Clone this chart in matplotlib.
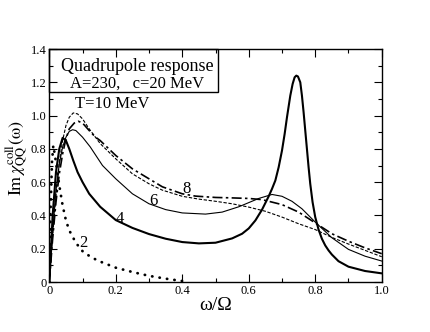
import matplotlib
matplotlib.use('Agg')
import matplotlib.pyplot as plt
from matplotlib.patches import Rectangle
from matplotlib.ticker import MultipleLocator, FuncFormatter

plt.rcParams['font.family'] = ['Liberation Serif', 'DejaVu Serif']
plt.rcParams['mathtext.fontset'] = 'stix'

# ===================== DATA =====================
# T = 2 MeV (dotted)
x_t2 = [0, 0.004, 0.008, 0.012, 0.02, 0.03, 0.04, 0.05, 0.06, 0.08, 0.1,
        0.125, 0.15, 0.2, 0.25, 0.3, 0.35, 0.4, 0.42]
y_t2 = [0, 0.45, 0.72, 0.82, 0.72, 0.58, 0.46, 0.37, 0.31, 0.235, 0.185,
        0.15, 0.125, 0.086, 0.06, 0.037, 0.02, 0.006, 0.0]

# T = 4 MeV (thick solid)
x_t4 = [0, 0.005, 0.01, 0.02, 0.03, 0.04, 0.05, 0.06, 0.072, 0.085, 0.1,
        0.12, 0.153, 0.2, 0.25, 0.3, 0.35, 0.4, 0.45, 0.5, 0.55, 0.58, 0.6,
        0.62, 0.64, 0.66, 0.67, 0.68, 0.69, 0.7, 0.708, 0.715, 0.725, 0.732,
        0.738, 0.743, 0.748, 0.755, 0.76, 0.765, 0.77, 0.775, 0.78, 0.785,
        0.792, 0.8, 0.81, 0.82, 0.83, 0.84, 0.85, 0.87, 0.9, 0.95, 1.0]
y_t4 = [0, 0.2, 0.4, 0.66, 0.8, 0.866, 0.85, 0.8, 0.73, 0.66, 0.6,
        0.53, 0.452, 0.372, 0.325, 0.288, 0.26, 0.24, 0.232, 0.236, 0.262, 0.29, 0.322,
        0.37, 0.435, 0.515, 0.56, 0.61, 0.69, 0.79, 0.89, 0.99, 1.12, 1.19,
        1.23, 1.24, 1.235, 1.2, 1.12, 1.02, 0.91, 0.8, 0.69, 0.59,
        0.48, 0.39, 0.315, 0.26, 0.22, 0.19, 0.165, 0.125, 0.092, 0.066, 0.052]

# T = 6 MeV (thin solid)
x_t6 = [0, 0.01, 0.02, 0.03, 0.04, 0.05, 0.06, 0.07, 0.08, 0.1, 0.123,
        0.16, 0.2, 0.25, 0.3, 0.35, 0.4, 0.47, 0.52, 0.57, 0.63, 0.67, 0.7,
        0.73, 0.76, 0.8, 0.85, 0.9, 0.95, 1.0]
y_t6 = [0, 0.3, 0.55, 0.71, 0.81, 0.87, 0.905, 0.915, 0.91, 0.87, 0.812,
        0.7, 0.62, 0.53, 0.47, 0.435, 0.415, 0.408, 0.42, 0.452, 0.502, 0.526, 0.515,
        0.485, 0.44, 0.36, 0.266, 0.196, 0.155, 0.126]

# T = 8 MeV (dash-dot)
x_t8 = [0, 0.01, 0.02, 0.03, 0.04, 0.05, 0.06, 0.075, 0.087, 0.1, 0.12,
        0.138, 0.153, 0.2, 0.25, 0.3, 0.34, 0.4, 0.44, 0.5, 0.54, 0.6, 0.64,
        0.7, 0.75, 0.8, 0.85, 0.9, 0.95, 1.0]
y_t8 = [0, 0.26, 0.48, 0.65, 0.77, 0.86, 0.92, 0.955, 0.966, 0.955, 0.91,
        0.872, 0.85, 0.76, 0.68, 0.62, 0.572, 0.53, 0.516, 0.508, 0.506, 0.502, 0.495,
        0.465, 0.42, 0.355, 0.29, 0.245, 0.205, 0.17]

# T = 10 MeV (dashed)
x_t10 = [0, 0.01, 0.02, 0.03, 0.04, 0.05, 0.06, 0.072, 0.085, 0.1, 0.12,
         0.153, 0.2, 0.25, 0.3, 0.34, 0.4, 0.45, 0.5, 0.55, 0.6, 0.65, 0.7,
         0.75, 0.8, 0.85, 0.9, 0.95, 1.0]
y_t10 = [0, 0.28, 0.52, 0.72, 0.85, 0.94, 0.99, 1.016, 1.01, 0.98, 0.92,
         0.832, 0.74, 0.65, 0.59, 0.552, 0.515, 0.498, 0.485, 0.47, 0.45, 0.425, 0.39,
         0.35, 0.315, 0.268, 0.228, 0.19, 0.152]

curve_labels = ['2', '4', '6', '8']
label_x = [0.103, 0.213, 0.313, 0.414]
label_y = [0.236, 0.378, 0.486, 0.556]

# ===================== PLOT =====================
fig = plt.figure(figsize=(4.3, 3.32), dpi=100)
ax = fig.add_axes([0.1147, 0.1506, 0.773, 0.7018])

ax.plot(x_t2, y_t2, color='black', lw=2.0, linestyle=(0, (0.1, 2.6)),
        dash_capstyle='round')
ax.plot(x_t4, y_t4, color='black', lw=1.5)
ax.plot(x_t6, y_t6, color='black', lw=0.8)
ax.plot(x_t8, y_t8, color='black', lw=1.2, linestyle=(0, (6, 2, 1.5, 2)))
ax.plot(x_t10, y_t10, color='black', lw=0.8, linestyle=(0, (3, 1.5)))

for lab, lx, ly in zip(curve_labels, label_x, label_y):
    ax.text(lx, ly, lab, fontsize=12, ha='center', va='center')

ax.set_xlim(0, 1.0)
ax.set_ylim(0, 1.4)

ax.xaxis.set_major_locator(MultipleLocator(0.2))
ax.xaxis.set_minor_locator(MultipleLocator(0.1))
ax.yaxis.set_major_locator(MultipleLocator(0.2))
ax.yaxis.set_minor_locator(MultipleLocator(0.1))

fmt = FuncFormatter(lambda v, p: '0' if abs(v) < 1e-9 else f'{v:.1f}')
ax.xaxis.set_major_formatter(fmt)
ax.yaxis.set_major_formatter(fmt)

ax.tick_params(which='both', direction='in', top=True, right=True,
               labelsize=9, width=0.8, pad=2)
ax.tick_params(which='major', length=6)
ax.tick_params(which='minor', length=3)
for sp in ax.spines.values():
    sp.set_linewidth(1.0)

ax.set_xlabel('ω/Ω', fontsize=14, labelpad=0)
ax.set_ylabel(r'$\mathrm{Im}\,\chi^{\mathrm{coll}}_{\mathrm{QQ}}(\mathrm{\omega})$',
              fontsize=13)
ax.yaxis.set_label_coords(-0.057, 0.53)

# title box
ax.add_patch(Rectangle((0, 0.817), 0.508, 0.183, transform=ax.transAxes,
                       fill=False, lw=1.0, edgecolor='black', clip_on=False))
ax.text(0.264, 0.927, 'Quadrupole response', transform=ax.transAxes,
        fontsize=13, ha='center', va='center')
ax.text(0.264, 0.853, 'A=230,   c=20 MeV', transform=ax.transAxes,
        fontsize=12, ha='center', va='center')
ax.text(0.189, 1.068, 'T=10 MeV', fontsize=12, ha='center', va='center')

plt.savefig('out.png', dpi=100)
plt.close()
